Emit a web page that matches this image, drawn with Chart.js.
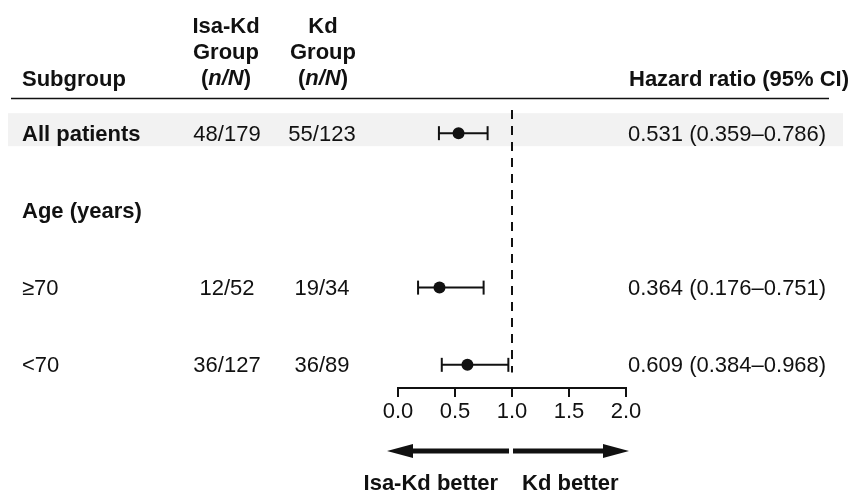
<!DOCTYPE html>
<html>
<head>
<meta charset="utf-8">
<script src="https://cdn.jsdelivr.net/npm/chart.js@4.4.1/dist/chart.umd.min.js"></script>
<style>
  body { margin: 0; background: #fff; }
  canvas { display: block; }
</style>
</head>
<body>
<canvas id="chart-1" width="851" height="491"></canvas>
<script>
/************************ data *********************************/

const subgroups = ["All patients", "Age (years)", "\u226570", "<70"];
const boldRows = [true, true, false, false];
const isaKdN = ["48/179", "", "12/52", "36/127"];
const kdN = ["55/123", "", "19/34", "36/89"];
const hrValue = [0.531, null, 0.364, 0.609];
const ciLow = [0.359, null, 0.176, 0.384];
const ciHigh = [0.786, null, 0.751, 0.968];
const xTickStep = 0.5;
const xMin = 0;
const xMax = 2;

const FONT = "'Liberation Sans', Arial, Helvetica, sans-serif";
const FS = 22;

/************************ datasets *********************************/

const datasets = [];

// reference line at HR = 1
datasets.push({
  type: "line",
  data: [{ x: 1, y: -0.3 }, { x: 1, y: 3.1 }],
  borderColor: "#111",
  borderWidth: 2,
  borderDash: [9, 7],
  pointRadius: 0,
  clip: false,
});

// confidence intervals with caps
subgroups.forEach((s, i) => {
  if (hrValue[i] === null) return;
  datasets.push({
    type: "line",
    data: [{ x: ciLow[i], y: i }, { x: ciHigh[i], y: i }],
    borderColor: "#111",
    borderWidth: 2,
    pointStyle: "line",
    rotation: 90,
    pointRadius: 7,
    pointBorderWidth: 2,
    pointBorderColor: "#111",
  });
});

// point estimates
datasets.push({
  type: "scatter",
  data: subgroups
    .map((s, i) => (hrValue[i] === null ? null : { x: hrValue[i], y: i }))
    .filter((d) => d),
  backgroundColor: "#111",
  borderColor: "#111",
  pointRadius: 6,
  borderWidth: 0,
});

/************************ table + annotation plugin *********************************/

function txt(ctx, s, x, y, align, bold, italic) {
  ctx.font = (italic ? "italic " : "") + (bold ? "bold " : "") + FS + "px " + FONT;
  ctx.textAlign = align;
  ctx.textBaseline = "middle";
  ctx.fillStyle = "#111";
  ctx.fillText(s, x, y + 1.5);
}

// "(n/N)" with italic n/N, centred on cx
function nOverN(ctx, cx, y) {
  ctx.font = "bold " + FS + "px " + FONT;
  const wp = ctx.measureText("(").width;
  const wq = ctx.measureText(")").width;
  ctx.font = "italic bold " + FS + "px " + FONT;
  const wn = ctx.measureText("n/N").width;
  let x = cx - (wp + wn + wq) / 2;
  txt(ctx, "(", x, y, "left", true);
  txt(ctx, "n/N", x + wp, y, "left", true, true);
  txt(ctx, ")", x + wp + wn, y, "left", true);
}

const forestTable = {
  id: "forestTable",
  beforeDraw(chart) {
    const ctx = chart.ctx;
    ctx.save();
    ctx.fillStyle = "#fff";
    ctx.fillRect(0, 0, chart.width, chart.height);
    ctx.restore();
  },
  beforeDatasetsDraw(chart) {
    const ctx = chart.ctx;
    const y0 = chart.scales.y.getPixelForValue(0);
    ctx.save();
    ctx.fillStyle = "#f2f2f2";
    ctx.fillRect(8, y0 - 20, 835, 33);
    ctx.restore();
  },
  afterDraw(chart) {
    const ctx = chart.ctx;
    const xs = chart.scales.x;
    const ys = chart.scales.y;
    ctx.save();

    // header
    txt(ctx, "Subgroup", 22, 78, "left", true);
    txt(ctx, "Isa-Kd", 226, 25, "center", true);
    txt(ctx, "Group", 226, 51, "center", true);
    nOverN(ctx, 226, 77);
    txt(ctx, "Kd", 323, 25, "center", true);
    txt(ctx, "Group", 323, 51, "center", true);
    nOverN(ctx, 323, 77);
    txt(ctx, "Hazard ratio (95% CI)", 629, 78, "left", true);

    ctx.strokeStyle = "#111";
    ctx.lineWidth = 1.5;
    ctx.beginPath();
    ctx.moveTo(11, 98.5);
    ctx.lineTo(829, 98.5);
    ctx.stroke();

    // rows
    subgroups.forEach((s, i) => {
      const y = ys.getPixelForValue(i);
      txt(ctx, s, 22, y, "left", boldRows[i]);
      txt(ctx, isaKdN[i], 227, y, "center", false);
      txt(ctx, kdN[i], 322, y, "center", false);
      if (hrValue[i] !== null) {
        const s2 = hrValue[i].toFixed(3) + " (" + ciLow[i].toFixed(3) +
          "\u2013" + ciHigh[i].toFixed(3) + ")";
        txt(ctx, s2, 628, y, "left", false);
      }
    });

    // arrows under the axis
    const x1 = xs.getPixelForValue(1);
    const ay = 451;
    ctx.fillStyle = "#111";
    ctx.fillRect(387 + 24, ay - 2.5, x1 - 3 - (387 + 24), 5);
    ctx.beginPath();
    ctx.moveTo(387, ay);
    ctx.lineTo(387 + 26, ay - 7);
    ctx.lineTo(387 + 26, ay + 7);
    ctx.closePath();
    ctx.fill();
    ctx.fillRect(x1 + 1, ay - 2.5, 629 - 24 - (x1 + 1), 5);
    ctx.beginPath();
    ctx.moveTo(629, ay);
    ctx.lineTo(629 - 26, ay - 7);
    ctx.lineTo(629 - 26, ay + 7);
    ctx.closePath();
    ctx.fill();

    txt(ctx, "Isa-Kd better", x1 - 14, 482, "right", true);
    txt(ctx, "Kd better", x1 + 10, 482, "left", true);

    ctx.restore();
  },
};

/************************ chart *********************************/

const ctx1 = document.getElementById("chart-1").getContext("2d");
const myChart1 = new Chart(ctx1, {
  data: { datasets: datasets },
  options: {
    responsive: false,
    animation: false,
    events: [],
    layout: {
      padding: { left: 398, right: 225, top: 110, bottom: 0 },
    },
    plugins: {
      legend: { display: false },
      tooltip: { enabled: false },
    },
    scales: {
      x: {
        type: "linear",
        min: xMin,
        max: xMax,
        afterFit: (s) => {
          s.height = 103;
        },
        grid: {
          drawOnChartArea: false,
          drawTicks: true,
          tickLength: 9,
          color: "#111",
          lineWidth: 2,
        },
        border: { display: true, color: "#111", width: 2 },
        ticks: {
          stepSize: xTickStep,
          padding: 2,
          color: "#111",
          font: { family: FONT, size: FS },
          callback: (v) => v.toFixed(1),
          maxRotation: 0,
        },
      },
      y: {
        type: "linear",
        display: false,
        reverse: true,
        min: -0.3,
        max: 3.3,
      },
    },
  },
  plugins: [forestTable],
});
</script>
</body>
</html>
